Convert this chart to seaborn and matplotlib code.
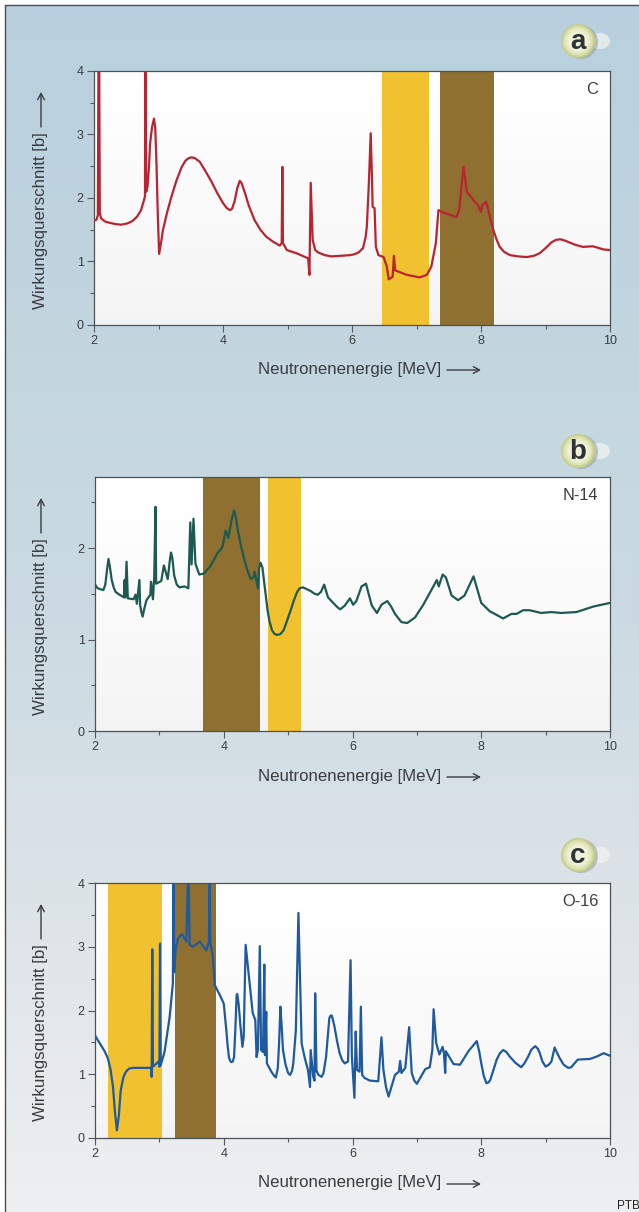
import numpy as np
import matplotlib
matplotlib.use("Agg")
import matplotlib.pyplot as plt
from matplotlib.patches import Circle, Ellipse, FancyArrowPatch
import seaborn as sns

# Values: (energy in MeV, cross section in barn)
c_points = [(2.0, 1.64), (2.04, 1.66), (2.06, 1.73), (2.07, 4.4), (2.08, 4.4), (2.09, 1.76), (2.11, 1.68), (2.17, 1.63), (2.24, 1.61), (2.33, 1.59),
            (2.42, 1.58), (2.52, 1.6), (2.6, 1.64), (2.67, 1.71), (2.73, 1.81), (2.79, 2.02), (2.8, 4.4), (2.81, 2.1), (2.83, 2.18), (2.85, 2.45),
            (2.87, 2.86), (2.9, 3.12), (2.93, 3.25), (2.95, 3.1), (2.97, 2.5), (2.99, 1.7), (3.01, 1.12), (3.04, 1.3), (3.07, 1.5), (3.13, 1.76),
            (3.2, 2.02), (3.28, 2.28), (3.36, 2.49), (3.42, 2.59), (3.47, 2.63), (3.51, 2.64), (3.56, 2.63), (3.64, 2.57), (3.73, 2.42), (3.82, 2.26),
            (3.91, 2.08), (4.0, 1.92), (4.06, 1.84), (4.11, 1.81), (4.14, 1.83), (4.18, 1.95), (4.22, 2.15), (4.26, 2.27), (4.29, 2.23), (4.34, 2.08),
            (4.4, 1.88), (4.49, 1.65), (4.58, 1.5), (4.67, 1.39), (4.78, 1.31), (4.88, 1.25), (4.91, 1.29), (4.92, 2.49), (4.93, 1.29), (4.99, 1.18),
            (5.14, 1.13), (5.32, 1.05), (5.34, 0.79), (5.36, 2.24), (5.39, 1.34), (5.43, 1.18), (5.48, 1.14), (5.58, 1.1), (5.68, 1.08), (5.97, 1.1),
            (6.02, 1.11), (6.1, 1.14), (6.17, 1.21), (6.21, 1.38), (6.23, 1.55), (6.26, 2.2), (6.29, 3.02), (6.31, 2.3), (6.32, 1.86), (6.35, 1.84),
            (6.37, 1.23), (6.41, 1.1), (6.49, 1.07), (6.54, 0.92), (6.57, 0.72), (6.63, 0.76), (6.65, 1.09), (6.67, 0.86), (6.85, 0.79), (7.05, 0.75),
            (7.16, 0.79), (7.23, 0.92), (7.3, 1.29), (7.34, 1.81), (7.39, 1.78), (7.62, 1.7), (7.66, 1.81), (7.73, 2.49), (7.78, 2.1), (7.88, 1.97),
            (7.95, 1.89), (8.0, 1.78), (8.02, 1.89), (8.08, 1.94), (8.19, 1.5), (8.24, 1.35), (8.29, 1.23), (8.36, 1.15), (8.45, 1.1), (8.58, 1.08),
            (8.71, 1.07), (8.82, 1.09), (8.91, 1.13), (9.0, 1.21), (9.09, 1.3), (9.16, 1.34), (9.23, 1.35), (9.3, 1.33), (9.37, 1.3), (9.47, 1.26),
            (9.58, 1.23), (9.73, 1.24), (9.8, 1.22), (9.9, 1.19), (10.0, 1.18)]

n_points = [(2.0, 1.6), (2.04, 1.56), (2.13, 1.54), (2.16, 1.6), (2.19, 1.78), (2.21, 1.88), (2.23, 1.8), (2.26, 1.65), (2.29, 1.57), (2.32, 1.52),
            (2.38, 1.49), (2.45, 1.46), (2.46, 1.65), (2.47, 1.46), (2.49, 1.85), (2.51, 1.45), (2.6, 1.44), (2.63, 1.49), (2.65, 1.39), (2.69, 1.65),
            (2.7, 1.38), (2.72, 1.3), (2.74, 1.25), (2.77, 1.35), (2.8, 1.43), (2.86, 1.49), (2.87, 1.63), (2.9, 1.44), (2.92, 1.68), (2.94, 2.45),
            (2.95, 1.61), (3.03, 1.64), (3.07, 1.81), (3.13, 1.66), (3.16, 1.85), (3.18, 1.95), (3.2, 1.9), (3.23, 1.7), (3.27, 1.6), (3.31, 1.57),
            (3.39, 1.58), (3.45, 1.56), (3.48, 2.28), (3.5, 1.82), (3.53, 2.32), (3.56, 1.83), (3.62, 1.71), (3.69, 1.72), (3.79, 1.8), (3.9, 1.94),
            (3.98, 2.01), (4.03, 2.19), (4.07, 2.11), (4.12, 2.3), (4.16, 2.41), (4.19, 2.33), (4.22, 2.19), (4.27, 2.02), (4.32, 1.87), (4.37, 1.75),
            (4.42, 1.66), (4.46, 1.68), (4.48, 1.74), (4.53, 1.56), (4.55, 1.78), (4.57, 1.84), (4.6, 1.79), (4.64, 1.55), (4.68, 1.32), (4.71, 1.2),
            (4.75, 1.1), (4.79, 1.06), (4.83, 1.05), (4.88, 1.06), (4.93, 1.1), (4.98, 1.2), (5.04, 1.32), (5.09, 1.43), (5.14, 1.52), (5.18, 1.56),
            (5.23, 1.57), (5.29, 1.55), (5.35, 1.53), (5.41, 1.5), (5.46, 1.49), (5.51, 1.52), (5.56, 1.6), (5.62, 1.46), (5.7, 1.4), (5.77, 1.35),
            (5.81, 1.33), (5.88, 1.37), (5.96, 1.45), (6.01, 1.38), (6.06, 1.42), (6.14, 1.58), (6.21, 1.61), (6.25, 1.5), (6.3, 1.37), (6.38, 1.29),
            (6.45, 1.38), (6.54, 1.42), (6.6, 1.36), (6.66, 1.28), (6.76, 1.19), (6.85, 1.18), (6.97, 1.24), (7.1, 1.38), (7.31, 1.65), (7.34, 1.58),
            (7.4, 1.71), (7.45, 1.68), (7.54, 1.48), (7.64, 1.43), (7.74, 1.48), (7.88, 1.69), (8.0, 1.4), (8.13, 1.31), (8.34, 1.23), (8.47, 1.28),
            (8.55, 1.28), (8.65, 1.32), (8.75, 1.32), (8.93, 1.29), (9.09, 1.3), (9.24, 1.29), (9.48, 1.3), (9.74, 1.36), (10.0, 1.4)]

o_points = [(2.0, 1.61), (2.04, 1.54), (2.09, 1.46), (2.15, 1.36), (2.2, 1.25), (2.24, 1.08), (2.28, 0.8), (2.31, 0.4), (2.34, 0.12), (2.37, 0.35),
            (2.4, 0.75), (2.44, 0.95), (2.48, 1.04), (2.53, 1.09), (2.59, 1.1), (2.87, 1.1), (2.88, 0.96), (2.89, 2.96), (2.9, 1.12), (2.99, 1.2),
            (3.0, 1.12), (3.01, 3.05), (3.02, 1.14), (3.08, 1.35), (3.16, 1.9), (3.21, 2.43), (3.22, 4.4), (3.23, 2.6), (3.25, 2.95), (3.29, 3.13),
            (3.35, 3.2), (3.42, 3.08), (3.45, 4.4), (3.47, 3.03), (3.52, 3.0), (3.63, 3.08), (3.73, 2.94), (3.77, 3.08), (3.78, 4.4), (3.79, 3.08),
            (3.83, 2.85), (3.86, 2.4), (3.94, 2.24), (4.0, 2.11), (4.04, 1.69), (4.06, 1.45), (4.08, 1.27), (4.1, 1.21), (4.12, 1.19), (4.14, 1.2),
            (4.16, 1.27), (4.18, 1.7), (4.2, 2.24), (4.21, 2.26), (4.23, 2.11), (4.26, 1.75), (4.29, 1.43), (4.31, 1.59), (4.34, 3.03), (4.38, 2.64),
            (4.45, 1.96), (4.49, 1.85), (4.51, 1.27), (4.53, 1.38), (4.56, 3.01), (4.58, 1.38), (4.61, 1.35), (4.63, 2.72), (4.64, 1.3), (4.66, 1.98),
            (4.67, 1.17), (4.74, 1.04), (4.78, 0.98), (4.81, 0.95), (4.84, 1.1), (4.86, 1.5), (4.88, 2.06), (4.9, 1.75), (4.92, 1.38), (4.96, 1.15),
            (5.0, 1.02), (5.03, 0.99), (5.06, 1.05), (5.08, 1.17), (5.12, 1.69), (5.16, 3.53), (5.21, 1.48), (5.26, 1.25), (5.31, 1.06), (5.34, 0.8),
            (5.35, 1.38), (5.39, 0.96), (5.41, 0.9), (5.42, 2.27), (5.44, 1.06), (5.47, 0.99), (5.52, 0.96), (5.55, 1.02), (5.59, 1.28), (5.62, 1.65),
            (5.64, 1.88), (5.66, 1.92), (5.68, 1.92), (5.72, 1.75), (5.76, 1.52), (5.8, 1.33), (5.84, 1.22), (5.88, 1.17), (5.93, 1.2), (5.97, 2.79),
            (5.99, 1.28), (6.03, 0.63), (6.05, 1.67), (6.07, 1.07), (6.11, 1.04), (6.13, 2.06), (6.15, 0.99), (6.19, 0.94), (6.27, 0.9), (6.4, 0.89),
            (6.45, 1.58), (6.48, 1.07), (6.52, 0.8), (6.56, 0.65), (6.61, 0.82), (6.66, 0.99), (6.72, 1.04), (6.74, 1.21), (6.76, 1.02), (6.82, 1.1),
            (6.88, 1.74), (6.92, 1.02), (6.96, 0.9), (7.0, 0.85), (7.05, 0.94), (7.13, 1.08), (7.2, 1.11), (7.24, 1.38), (7.26, 2.02), (7.3, 1.49),
            (7.35, 1.31), (7.4, 1.43), (7.42, 1.33), (7.44, 1.02), (7.45, 1.36), (7.57, 1.16), (7.67, 1.15), (7.8, 1.36), (7.93, 1.52), (7.97, 1.35),
            (8.0, 1.17), (8.04, 0.97), (8.08, 0.86), (8.11, 0.87), (8.14, 0.91), (8.19, 1.07), (8.24, 1.23), (8.29, 1.33), (8.34, 1.38), (8.39, 1.35),
            (8.44, 1.28), (8.53, 1.18), (8.62, 1.11), (8.67, 1.17), (8.73, 1.28), (8.78, 1.39), (8.84, 1.44), (8.88, 1.4), (8.91, 1.33), (8.95, 1.2),
            (9.0, 1.12), (9.05, 1.15), (9.09, 1.2), (9.14, 1.42), (9.18, 1.33), (9.22, 1.25), (9.28, 1.15), (9.35, 1.1), (9.4, 1.11), (9.43, 1.15),
            (9.5, 1.23), (9.69, 1.24), (9.8, 1.28), (9.9, 1.33), (10.0, 1.29)]

c_yellow, c_brown = (6.46, 7.19), (7.37, 8.2)
n_yellow, n_brown = (4.68, 5.2), (3.67, 4.56)
o_yellow, o_brown = (2.2, 3.04), (3.24, 3.88)

x_ticks = [2, 4, 6, 8, 10]
x_minor = [3, 5, 7, 9]

W, H = 639, 1212
TEXT = "#3a3d40"
YELLOW = "#f1c130"
BROWN = "#8f7030"

sns.set_theme(style="ticks")
plt.rcParams["font.family"] = ["Liberation Sans", "DejaVu Sans"]

fig = plt.figure(figsize=(W / 100, H / 100), dpi=100, facecolor="white")


def px_axes(left, top, right, bottom, **kw):
    return fig.add_axes([left / W, 1 - bottom / H, (right - left) / W, (bottom - top) / H], **kw)


def long_arrow(x0, y0, x1, y1):
    fig.add_artist(FancyArrowPatch((x0 / W, 1 - y0 / H), (x1 / W, 1 - y1 / H), transform=fig.transFigure,
                                   arrowstyle="->,head_length=4.5,head_width=2.4", lw=1.0, color=TEXT,
                                   shrinkA=0, shrinkB=0))


# page background, blue at the top going pale grey further down
bg = px_axes(5, 5, W, H)
bg.set_axis_off()
stops = [0, 0.5, 0.75, 1]
stop_cols = np.array([matplotlib.colors.to_rgb(c) for c in ["#b8d0dd", "#cbdae2", "#dde4e8", "#eeeff0"]])
t = np.linspace(0, 1, 256)
grad = np.stack([np.interp(t, stops, stop_cols[:, i]) for i in range(3)], axis=1)
bg.imshow(grad[:, None, :], aspect="auto", extent=(0, 1, 0, 1))
bg.set_xlim(0, 1)
bg.set_ylim(0, 1)
fig.add_artist(plt.Line2D([5 / W, 5 / W], [0, 1 - 5 / H], color="#4d4a4c", lw=1.0))
fig.add_artist(plt.Line2D([5 / W, 1], [1 - 5 / H, 1 - 5 / H], color="#4d4a4c", lw=1.0))


def panel(top, bottom, left, points, color, ymax, yticks, yminor, yellow, brown, name, letter, badge_y, label_y, ylabel_mid):
    energy = [p[0] for p in points]
    sigma = [p[1] for p in points]
    ax = px_axes(left, top, 610, bottom)
    ax.imshow(np.linspace(1, 0.955, 64)[:, None], cmap="gray", vmin=0, vmax=1, aspect="auto", extent=(2, 10, 0, ymax), zorder=0)
    ax.axvspan(*yellow, color=YELLOW, lw=0, zorder=1)
    ax.axvspan(*brown, color=BROWN, lw=0, zorder=1)
    sns.lineplot(x=energy, y=sigma, color=color, lw=1.6, sort=False, estimator=None, errorbar=None, ax=ax, zorder=3, solid_joinstyle="round")
    ax.set_xlim(2, 10)
    ax.set_ylim(0, ymax)
    ax.set_xticks(x_ticks)
    ax.set_xticks(x_minor, minor=True)
    ax.set_yticks(yticks)
    ax.set_yticks(yminor, minor=True)
    ax.tick_params(which="major", length=5, width=0.8, color="#555a5e", labelsize=9, labelcolor=TEXT, pad=2.5)
    ax.tick_params(which="minor", length=3, width=0.8, color="#555a5e")
    for s in ax.spines.values():
        s.set_visible(True)
        s.set_color("#4a5358")
        s.set_linewidth(0.9)
    ax.set_xlabel("")
    ax.set_ylabel("")
    ax.text(0.977, 0.908, name, transform=ax.transAxes, ha="right", va="baseline", fontsize=11.8, color=TEXT, zorder=4)

    # axis titles with their long arrows
    fig.text(258 / W, 1 - label_y / H, "Neutronenenergie [MeV]", ha="left", va="center", fontsize=12.1, color=TEXT)
    long_arrow(447, label_y + 1, 481, label_y + 1)
    fig.text(41 / W, 1 - ylabel_mid / H, "Wirkungsquerschnitt [b]", rotation=90, ha="center", va="center", fontsize=12.2, color=TEXT)
    long_arrow(41, ylabel_mid - 94, 41, ylabel_mid - 129)

    # round badge with the panel letter
    overlay = fig.add_axes([0, 0, 1, 1], zorder=5, facecolor="none")
    overlay.set_axis_off()
    overlay.set_xlim(0, W)
    overlay.set_ylim(H, 0)
    overlay.add_patch(Ellipse((600, badge_y), 20, 16, color="#f4f5f3", lw=0, alpha=0.7))
    overlay.add_patch(Circle((581, badge_y + 1), 17, color="#9aa39c", lw=0, alpha=0.6))
    for r, col in zip([17, 15.5, 14, 12, 10], ["#c5cd8c", "#d3da9f", "#e0e4b6", "#e9ecc9", "#eff1d8"]):
        overlay.add_patch(Circle((578, badge_y), r, color=col, lw=0))
    overlay.text(578, badge_y + 8, letter, ha="center", va="baseline", fontsize=20, fontweight="bold", color="#2f3336")


panel(71, 325, 94, c_points, "#b92430", 4, [0, 1, 2, 3, 4], [0.5, 1.5, 2.5, 3.5], c_yellow, c_brown, "C", "a", 41, 369, 221)
panel(477, 731, 95, n_points, "#1c5a52", 2.776, [0, 1, 2], [0.5, 1.5, 2.5], n_yellow, n_brown, "N-14", "b", 451, 776, 627)
panel(883, 1138, 95, o_points, "#1f5a9f", 4, [0, 1, 2, 3, 4], [0.5, 1.5, 2.5, 3.5], o_yellow, o_brown, "O-16", "c", 855, 1183, 1033)

fig.text(617 / W, 1 - 1206 / H, "PTB", ha="left", va="center", fontsize=8.5, color="#222222")

fig.savefig("out.png", dpi=100)
